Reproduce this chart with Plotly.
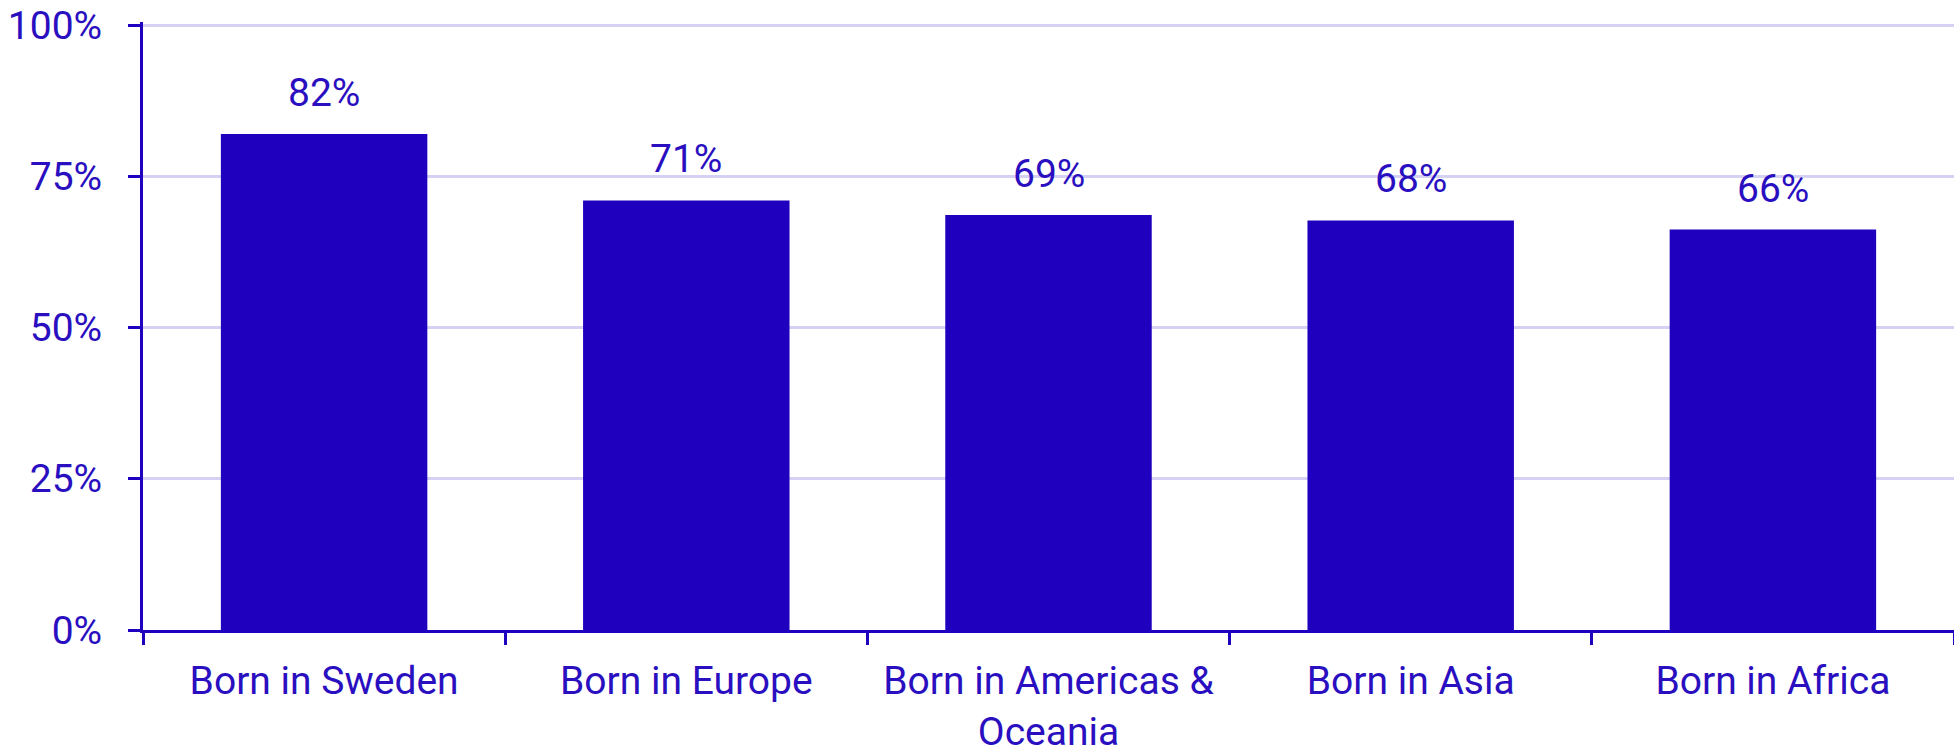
import plotly.graph_objects as go

categories = ["Born in Sweden", "Born in Europe", "Born in Americas &<br>Oceania", "Born in Asia", "Born in Africa"]
values = [82.0, 71.0, 68.6, 67.7, 66.2]
labels = ["82%", "71%", "69%", "68%", "66%"]
y_ticks = [0, 25, 50, 75, 100]
y_tick_labels = ["0%", "25%", "50%", "75%", "100%"]

BLUE = "#1f00be"
TEXT = "#2a0fc0"
FONT = "Roboto"
FS = 39

fig = go.Figure()
fig.add_trace(go.Bar(x=categories, y=values, marker=dict(color=BLUE, line=dict(width=0)),
                     hoverinfo="skip"))

for c, v, l in zip(categories, values, labels):
    fig.add_annotation(x=c, y=v, text=l, showarrow=False, yanchor="bottom", yshift=16,
                       font=dict(family=FONT, size=FS, color=TEXT))

fig.update_layout(
    width=1954, height=754,
    margin=dict(l=143, r=0, t=22, b=124),
    plot_bgcolor="white", paper_bgcolor="white",
    bargap=0.43, showlegend=False,
    font=dict(family=FONT, size=FS, color=TEXT),
)
fig.update_xaxes(
    showline=True, linecolor=BLUE, linewidth=3, automargin=False,
    ticks="outside", tickson="boundaries", ticklen=12, tickwidth=3, tickcolor=BLUE,
    tickfont=dict(family=FONT, size=FS, color=TEXT), showgrid=False, ticklabelstandoff=14,
)
fig.update_yaxes(
    range=[0, 100.5], tickvals=y_ticks, ticktext=y_tick_labels, automargin=False,
    ticklabeloverflow="allow",
    showline=True, linecolor=BLUE, linewidth=3,
    ticks="outside", ticklen=12, tickwidth=3, tickcolor=BLUE,
    gridcolor="#d4d1f2", gridwidth=3, zeroline=False,
    tickfont=dict(family=FONT, size=FS, color=TEXT), ticklabelstandoff=18,
)

fig.write_html("out.html", config={"displayModeBar": False},
               post_script="document.body.style.margin='0';document.body.style.overflow='hidden';")
